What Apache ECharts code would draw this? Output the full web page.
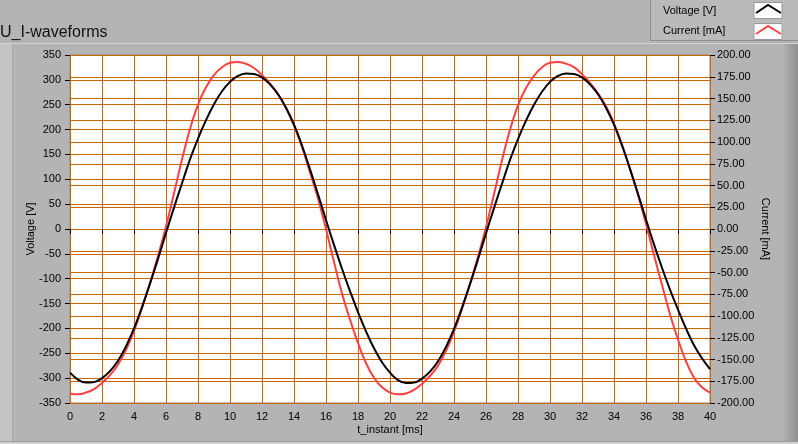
<!DOCTYPE html>
<html>
<head>
<meta charset="utf-8">
<script src="https://cdn.jsdelivr.net/npm/echarts@6/dist/echarts.min.js"></script>
<style>html,body{margin:0;padding:0;background:#b4b4b4;}#c{width:798px;height:444px;}</style>
</head>
<body>
<div id="c"></div>
<script>
// time instants [ms]
const timeMs = [0,0.5,1,1.5,2,2.5,3,3.5,4,4.5,5,5.5,6,6.5,7,7.5,8,8.5,9,9.5,
  10,10.5,11,11.5,12,12.5,13,13.5,14,14.5,15,15.5,16,16.5,17,17.5,18,18.5,19,19.5,
  20,20.5,21,21.5,22,22.5,23,23.5,24,24.5,25,25.5,26,26.5,27,27.5,28,28.5,29,29.5,
  30,30.5,31,31.5,32,32.5,33,33.5,34,34.5,35,35.5,36,36.5,37,37.5,38,38.5,39,39.5,40];
// Voltage [V]
const voltage = [-289,-303,-309,-308,-300,-286,-265,-236,-200,-157,-110,-60,-8,43,92,140,182,219,251,277,
  296,308,313,312,305,291,271,244,210,168,120,70,18,-32,-80,-125,-167,-206,-240,-268,
  -289,-304,-310,-309,-301,-287,-266,-237,-201,-158,-111,-61,-9,42,91,139,181,218,250,276,
  296,308,313,312,305,291,271,244,210,168,121,71,19,-31,-78,-122,-162,-200,-234,-260,-282];
// Current [mA]
const current = [-189,-190,-188,-184,-177,-168,-156,-139,-117,-91,-62,-31,3,41,80,115,143,163,177,186,
  191,192,190,185,177,167,155,139,119,94,65,35,0,-38,-74,-104,-131,-154,-171,-182,
  -188,-190,-189,-185,-178,-169,-157,-140,-118,-92,-63,-32,2,40,79,114,142,162,176,186,
  191,192,190,186,178,168,156,141,121,97,69,39,6,-30,-64,-98,-127,-152,-171,-182,-188];
// axis ticks
const xTicks = {min: 0, max: 40, step: 2};
const vTicks = {min: -350, max: 350, step: 50};
const iTicks = {min: -200, max: 200, step: 25};
const titleText = 'U_I-waveforms';
const seriesNames = ['Voltage [V]', 'Current [mA]'];
const xName = 't_instant [ms]';

const vData = timeMs.map((t, i) => [t, voltage[i]]);
const iData = timeMs.map((t, i) => [t, current[i]]);

const FONT = 'Liberation Sans, Arial, sans-serif';
const GRID = '#cc6600';
const chart = echarts.init(document.getElementById('c'), null, {renderer: 'canvas'});

const axisLabel = {color: '#000', fontFamily: FONT, fontSize: 11};
const axisTick = {show: true, inside: false, length: 5, lineStyle: {color: '#000', width: 1}};

chart.setOption({
  backgroundColor: '#b4b4b4',
  animation: false,
  grid: {left: 70, right: 88, top: 55, bottom: 41, show: true, backgroundColor: '#ffffff', borderColor: '#8c8c8c', borderWidth: 1},
  graphic: [
    {type: 'rect', z: -10, shape: {x: 0, y: 43, width: 798, height: 1}, style: {fill: '#d2d2d2'}},
    {type: 'rect', z: -10, shape: {x: 0, y: 44, width: 12, height: 397}, style: {fill: '#c4c4c4'}},
    {type: 'rect', z: -10, shape: {x: 12, y: 44, width: 1, height: 397}, style: {fill: '#a8a8a8'}},
    {type: 'rect', z: -10, shape: {x: 784, y: 44, width: 14, height: 397},
      style: {fill: new echarts.graphic.LinearGradient(0, 0, 1, 0, [{offset: 0, color: '#b0b0b0'}, {offset: 1, color: '#8e8e8e'}])}},
    {type: 'rect', z: -10, shape: {x: 0, y: 441, width: 798, height: 3}, style: {fill: '#9c9c9c'}},
    {type: 'rect', z: -10, shape: {x: 0, y: 442, width: 798, height: 2}, style: {fill: '#d0d0d0'}},
    // legend panel
    {type: 'rect', z: 5, shape: {x: 650, y: 0, width: 148, height: 41}, style: {fill: '#bababa'}},
    {type: 'rect', z: 5, shape: {x: 650, y: 0, width: 1, height: 41}, style: {fill: '#8e8e8e'}},
    {type: 'rect', z: 5, shape: {x: 650, y: 40, width: 148, height: 1}, style: {fill: '#8e8e8e'}},
    {type: 'text', z: 6, style: {x: 663, y: 11, text: seriesNames[0], fill: '#000', font: '11px ' + FONT, textVerticalAlign: 'middle'}},
    {type: 'text', z: 6, style: {x: 663, y: 31, text: seriesNames[1], fill: '#000', font: '11px ' + FONT, textVerticalAlign: 'middle'}},
    {type: 'rect', z: 6, shape: {x: 754, y: 2.5, width: 28, height: 16}, style: {fill: '#fff', stroke: '#9a9a9a', lineWidth: 1}},
    {type: 'rect', z: 6, shape: {x: 754, y: 23.5, width: 28, height: 16}, style: {fill: '#fff', stroke: '#9a9a9a', lineWidth: 1}},
    {type: 'polyline', z: 7, shape: {points: [[756, 13], [768, 5], [781, 13]]}, style: {stroke: '#000', lineWidth: 2, fill: null}},
    {type: 'polyline', z: 7, shape: {points: [[756, 34], [768, 26], [781, 34]]}, style: {stroke: '#ff4040', lineWidth: 2, fill: null}},
    // title
    {type: 'text', z: 6, style: {x: 0, y: 33, text: titleText, fill: '#111', font: '16px ' + FONT, textVerticalAlign: 'middle'}}
  ],
  xAxis: {
    type: 'value', min: xTicks.min, max: xTicks.max, interval: xTicks.step,
    name: xName, nameLocation: 'middle', nameGap: 21, nameMoveOverlap: false,
    nameTextStyle: {color: '#000', fontFamily: FONT, fontSize: 11},
    axisLine: {show: false},
    axisTick: axisTick,
    axisLabel: Object.assign({margin: 8}, axisLabel),
    splitLine: {show: true, lineStyle: {color: GRID, width: 1}}
  },
  yAxis: [
    {
      type: 'value', position: 'left', min: vTicks.min, max: vTicks.max, interval: vTicks.step,
      name: seriesNames[0], nameLocation: 'middle', nameGap: 34, nameRotate: 90, nameMoveOverlap: false,
      nameTextStyle: {color: '#000', fontFamily: FONT, fontSize: 11},
      axisLine: {show: false},
      axisTick: axisTick,
      axisLabel: Object.assign({margin: 9}, axisLabel),
      splitLine: {show: true, lineStyle: {color: GRID, width: 1}}
    },
    {
      type: 'value', position: 'right', min: iTicks.min, max: iTicks.max, interval: iTicks.step,
      name: seriesNames[1], nameLocation: 'middle', nameGap: 50, nameRotate: -90, nameMoveOverlap: false,
      nameTextStyle: {color: '#000', fontFamily: FONT, fontSize: 11},
      axisLine: {show: false},
      axisTick: axisTick,
      axisLabel: Object.assign({margin: 7, formatter: v => v.toFixed(2)}, axisLabel),
      splitLine: {show: true, lineStyle: {color: GRID, width: 1}}
    }
  ],
  series: [
    {name: seriesNames[1], type: 'line', yAxisIndex: 1, data: iData, smooth: 0.4, showSymbol: false,
      lineStyle: {color: '#ff4040', width: 2}, itemStyle: {color: '#ff4040'}, z: 3},
    {name: seriesNames[0], type: 'line', yAxisIndex: 0, data: vData, smooth: 0.4, showSymbol: false,
      lineStyle: {color: '#000', width: 2}, itemStyle: {color: '#000'}, z: 4}
  ]
});
</script>
</body>
</html>
